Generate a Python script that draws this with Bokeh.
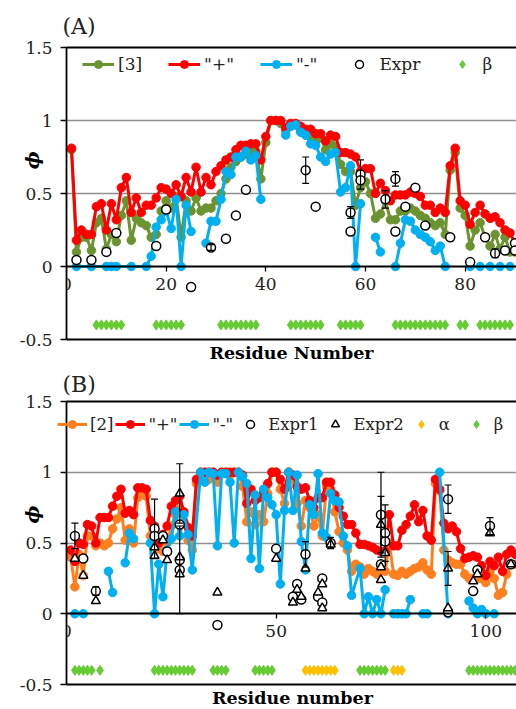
import math
from bokeh.plotting import figure
from bokeh.models import (LinearAxis, FixedTicker, Range1d, Legend, LegendItem,
                          Whisker, ColumnDataSource, TeeHead)
from bokeh.layouts import column
from bokeh.embed import file_html
from bokeh.resources import INLINE

nan = float("nan")

# ---------------- Panel A data ----------------
a_res = [1, 2, 3, 4, 5, 6, 7, 8, 9, 10, 11, 12, 13, 14, 15, 16, 17, 18, 19, 20,
         21, 22, 23, 24, 25, 26, 27, 28, 29, 30, 31, 32, 33, 34, 35, 36, 37, 38, 39, 40,
         41, 42, 43, 44, 45, 46, 47, 48, 49, 50, 51, 52, 53, 54, 55, 56, 57, 58, 59, 60,
         61, 62, 63, 64, 65, 66, 67, 68, 69, 70, 71, 72, 73, 74, 75, 76, 77, 78, 79, 80,
         81, 82, 83, 84, 85, 86, 87, 88, 89, 90]
a_model3 = [0.80, 0.10, 0.20, 0.20, 0.11, 0.30, 0.33, 0.12, 0.22, 0.17,
            0.35, 0.45, 0.18, 0.33, 0.30, 0.28, 0.20, 0.22, 0.38, 0.45,
            0.40, 0.48, 0.20, 0.45, 0.38, 0.47, 0.38, 0.40, 0.40, 0.45,
            0.50, 0.60, 0.68, 0.72, 0.75, 0.77, 0.79, 0.79, 0.60, 0.85,
            1.00, 1.00, 0.98, 0.93, 0.97, 0.97, 0.93, 0.90, 0.90, 0.86,
            0.88, 0.80, 0.84, 0.82, 0.70, 0.65, 0.65, 0.42, 0.54, 0.58,
            0.50, 0.33, 0.36, 0.45, 0.32, 0.32, 0.38, 0.38, 0.40, 0.38,
            0.35, 0.33, 0.30, 0.28, 0.30, 0.22, 0.66, 0.78, 0.40, 0.35,
            0.14, 0.25, 0.30, 0.20, 0.14, 0.22, 0.12, 0.20, 0.10, 0.10]
a_plus = [0.81, 0.18, 0.25, 0.22, 0.22, 0.41, 0.43, 0.25, 0.43, 0.32,
          0.54, 0.61, 0.37, 0.47, 0.37, 0.42, 0.42, 0.47, 0.54, 0.53,
          0.50, 0.56, 0.48, 0.61, 0.51, 0.68, 0.51, 0.61, 0.56, 0.65,
          0.69, 0.73, 0.75, 0.80, 0.83, 0.83, 0.84, 0.84, 0.73, 0.89,
          1.00, 1.00, 1.00, 0.95, 0.98, 0.98, 0.96, 0.94, 0.94, 0.91,
          0.91, 0.86, 0.90, 0.89, 0.78, 0.78, 0.77, 0.75, 0.65, 0.67,
          0.67, 0.50, 0.57, 0.52, 0.45, 0.49, 0.49, 0.49, 0.51, 0.50,
          0.48, 0.42, 0.42, 0.37, 0.40, 0.37, 0.69, 0.81, 0.45, 0.42,
          0.29, 0.37, 0.42, 0.36, 0.33, 0.34, 0.30, 0.25, 0.23, 0.16]
a_minus_x = [2, 5, 8, 9, 10, 13, 16, 17, 18, 19, 20, 21, 22, 23, 24, 25, nan,
             28, 29, 30, 31, 32, 33, 34, 35, 36, 37, 38, 39, nan,
             44, 45, 46, 47, 48, 49, 50, 51, 52, 53, 54, 55, 56, 57, 58, 59, nan,
             62, 63, nan,
             66, 67, 68, 69, 70, 71, 72, 73, 74, 75, 76, nan,
             81, 83, 85, 87, 89]
a_minus_y = [0, 0, 0, 0, 0, 0, 0, 0.07, 0.27, 0.32, 0.38, 0.26, 0.46, 0, 0.42, 0.24, nan,
             0.16, 0.31, 0.31, 0.46, 0.65, 0.63, 0.75, 0.75, 0.79, 0.73, 0.76, 0.46, nan,
             0.90, 0.96, 0.97, 0.92, 0.90, 0.84, 0.83, 0.75, 0.72, 0.77, 0.78, 0.51, 0.54, 0.69, 0, 0.43, nan,
             0.20, 0.10, nan,
             0, 0.16, 0.32, 0.31, 0.25, 0.22, 0.20, 0.17, 0.11, 0.14, 0, nan,
             0, 0, 0, 0, 0]
a_expr_x = [2, 5, 8, 10, 18, 20, 25, 29, 32, 34, 36, 48, 50, 57, 57, 59, 59, 64, 66, 66,
            68, 70, 72, 77, 81, 84, 86, 88, 90, 90]
a_expr_y = [0.045, 0.045, 0.10, 0.23, 0.14, 0.39, -0.14, 0.13, 0.19, 0.35, 0.525, 0.66, 0.41,
            0.37, 0.24, 0.63, 0.59, 0.46, 0.60, 0.24, 0.41, 0.54, 0.28, 0.20, 0.03, 0.20,
            0.09, 0.11, 0.16, 0.11]
a_err_x = [29, 48, 57, 59, 64, 66, 86]
a_err_y = [0.13, 0.66, 0.37, 0.63, 0.46, 0.60, 0.09]
a_err_e = [0.02, 0.09, 0.04, 0.10, 0.06, 0.05, 0.03]
a_beta_x = [6, 7, 8, 9, 10, 11, 18, 19, 20, 21, 22, 23, 31, 32, 33, 34, 35, 36, 37, 38,
            45, 46, 47, 48, 49, 50, 51, 55, 56, 57, 58, 59, 66, 67, 68, 69, 70, 71, 72, 73,
            74, 75, 76, 79, 80, 83, 84, 85, 86, 87, 88, 89]
a_xticks = [0, 20, 40, 60, 80]

# ---------------- Panel B data ----------------
b_res = [1, 2, 3, 4, 5, 6, 7, 8, 9, 10, 11, 12, 13, 14, 15, 16, 17, 18, 19, 20,
         21, 22, 23, 24, 25, 26, 27, 28, 29, 30, 31, 32, 33, 34, 35, 36, 37, 38, 39, 40,
         41, 42, 43, 44, 45, 46, 47, 48, 49, 50, 51, 52, 53, 54, 55, 56, 57, 58, 59, 60,
         61, 62, 63, 64, 65, 66, 67, 68, 69, 70, 71, 72, 73, 74, 75, 76, 77, 78, 79, 80,
         81, 82, 83, 84, 85, 86, 87, 88, 89, 90, 91, 92, 93, 94, 95, 96, 97, 98, 99, 100,
         101, 102, 103, 104, 105, 106, 107]
b_model2 = [0.40, 0.19, 0.42, 0.27, 0.55, 0.55, 0.48, 0.50, 0.48, 0.50,
            0.60, 0.67, 0.75, 0.52, 0.60, 0.50, 0.82, 0.86, 0.83, 0.55,
            0.50, 0.46, 0.44, 0.50, 0.62, 0.70, 0.74, 0.65, 0.52, 0.45,
            0.92, 1.00, 1.00, 0.95, 1.00, 0.93, 1.00, 1.00, 0.98, 1.00,
            1.00, 0.90, 0.65, 0.72, 0.63, 0.70, 0.65, 0.85, 1.00, 1.00,
            0.88, 0.78, 1.00, 0.95, 0.78, 0.62, 0.80, 0.75, 0.62, 0.70,
            0.55, 0.90, 0.88, 0.72, 0.58, 0.50, 0.45, 0.30, 0.35, 0.33,
            0.28, 0.32, 0.30, 0.28, 0.33, 0.30, 0.50, 0.28, 0.27, 0.30,
            0.28, 0.30, 0.32, 0.33, 0.36, 0.31, 0.28, 0.92, 0.87, 0.45,
            0.38, 0.36, 0.35, 0.35, 0.28, 0.25, 0.25, 0.25, 0.25, 0.22,
            0.30, 0.25, 0.13, 0.15, 0.28, 0.35, 0.35]
b_plus = [0.45, 0.37, 0.50, 0.49, 0.63, 0.62, 0.50, 0.68, 0.68, 0.68,
          0.76, 0.83, 0.88, 0.71, 0.73, 0.70, 0.89, 0.89, 0.88, 0.66,
          0.62, 0.50, 0.56, 0.62, 0.76, 0.80, 0.83, 0.72, 0.61, 0.55,
          0.95, 1.00, 1.00, 1.00, 1.00, 0.98, 1.00, 1.00, 1.00, 1.00,
          1.00, 0.98, 0.78, 0.88, 0.80, 0.82, 0.86, 0.92, 1.00, 1.00,
          0.95, 0.88, 1.00, 0.98, 0.90, 0.88, 0.89, 0.80, 0.75, 0.82,
          0.82, 0.93, 0.93, 0.84, 0.75, 0.69, 0.63, 0.63, 0.57, 0.49,
          0.49, 0.48, 0.47, 0.45, 0.44, 0.44, 0.70, 0.48, 0.48, 0.59,
          0.63, 0.69, 0.77, 0.65, 0.73, 0.55, 0.52, 0.95, 0.88, 0.64,
          0.60, 0.62, 0.58, 0.46, 0.39, 0.40, 0.41, 0.40, 0.34, 0.27,
          0.37, 0.34, 0.40, 0.30, 0.42, 0.45, 0.42]
b_minus_x = [2, 4, nan, 10, 11, nan, 14, 15, 16, nan,
             20, 21, 22, 23, 24, 25, 26, 27, 28, 29, 30,
             32, 33, 34, 35, 36, 37, 38, 39, 40, 41,
             42, 43, 44, 45, 46, 47, 48, 49, 50, 51,
             52, 53, 54, 55, 56, 57, 58, 59, 60, 61,
             62, 63, 64, 65, 66, 67, 68,
             70, 71, 72, 73, 74, 75, 76, nan,
             78, 79, 80, 81, 82, nan, 85, 86, nan, 89, 91, nan,
             96, 97, 98, 99, 100, 102]
b_minus_y = [0, 0, nan, 0.30, 0.15, nan, 0.36, 0.57, 0.53, nan,
             0.50, 0.00, 0.35, 0.12, 0.45, 0.53, 0.72, 0.55, 0.70, 0.56, 0.31,
             1.00, 0.93, 1.00, 0.99, 0.48, 0.99, 0.99, 0.93, 0.50, 1.00,
             0.97, 0.92, 0.39, 0.84, 0.32, 0.88, 0.82, 0.77, 0.70, 0.21,
             0.73, 1.00, 0.73, 0.98, 0.51, 0.31, 0.77, 0.70, 0.99, 0.57,
             0.54, 0.85, 0.80, 0.79, 0.55, 0.48, 0.13,
             0.32, 0.00, 0.12, 0.00, 0.10, 0.00, 0.17, nan,
             0, 0, 0, 0, 0.10, nan, 0, 0, nan, 1.00, 0, nan,
             0.09, 0.04, 0, 0.03, 0, 0]
b_e1_x = [2, 4, 7, 21, 21, 23, 24, 27, 27, 27, 36, 50, 54, 55, 56, 57, 60, 61, 61, 63,
          75, 76, 76, 75, 91, 91, 97, 98, 101, 106]
b_e1_y = [0.55, 0.39, 0.16, 0.60, 0.55, 0.55, 0.44, 0.63, 0.38, 0.31, -0.08, 0.46, 0.12,
          0.21, 0.10, 0.42, 0.12, 0.25, 0.08, 0.50, 0.70, 0.57, 0.51, 0.35, 0.81, 0.01,
          0.16, 0.31, 0.62, 0.35]
b_e2_x = [2, 4, 7, 21, 21, 23, 24, 27, 27, 27, 36, 50, 54, 55, 56, 57, 60, 61, 61, 63,
          75, 76, 75, 75, 91, 91, 97, 98, 101, 106]
b_e2_y = [0.39, 0.27, 0.09, 0.47, 0.41, 0.52, 0.38, 0.85, 0.40, 0.28, 0.15, 0.39, 0.08,
          0.17, 0.12, 0.32, 0.15, 0.21, 0.04, 0.49, 0.63, 0.43, 0.33, 0.24, 0.32, 0.04,
          0.23, 0.28, 0.57, 0.35]
b_err_x = [2, 7, 21, 27, 27, 57, 63, 75, 75, 76, 91, 91, 101]
b_err_y = [0.55, 0.16, 0.60, 0.85, 0.31, 0.42, 0.50, 0.70, 0.63, 0.57, 0.81, 0.32, 0.62]
b_err_e = [0.09, 0.03, 0.21, 0.21, 0.31, 0.09, 0.04, 0.30, 0.20, 0.20, 0.10, 0.12, 0.06]
b_alpha_x = [57, 58, 59, 60, 61, 62, 63, 64, 78, 79, 80]
b_beta_x = [2, 3, 4, 5, 6, 8, 21, 22, 23, 24, 25, 26, 27, 28, 29, 30, 35, 36, 37, 38,
            45, 46, 47, 48, 49, 70, 71, 72, 73, 74, 75, 76, 96, 97, 98, 99, 100, 101, 102,
            103, 104, 105, 106, 107]
b_xticks = [0, 50, 100]

ss_level = -0.4
y_ticks = [-0.5, 0, 0.5, 1, 1.5]
y_tick_labels = {-0.5: "-0.5", 0: "0", 0.5: "0.5", 1: "1", 1.5: "1.5"}

GREEN = "#6b9431"
RED = "#ff0000"
BLUE = "#00b0f0"
ORANGE = "#ff7f1f"
BETA = "#66cc33"
ALPHA = "#ffc000"
FONT = "DejaVu Serif"
EM = "\u2003"
EN = "\u2002"


def base_figure(tag, frame_w, frame_h, xmax, left, top, bottom, xticks, xlabel, phi_pad,
                title_standoff):
    p = figure(frame_width=frame_w, frame_height=frame_h,
               x_range=Range1d(0, xmax), y_range=Range1d(-0.5, 1.5),
               output_backend="svg", toolbar_location=None,
               min_border_left=left, min_border_right=0, min_border_top=top,
               min_border_bottom=bottom, outline_line_color=None, title=tag)
    p.title.text_font = FONT
    p.title.text_font_style = "normal"
    p.title.text_font_size = "22px"
    p.title.text_color = "#222222"
    p.title.align = "left"
    p.title.offset = -4
    p.title.standoff = title_standoff

    p.xgrid.visible = False
    p.ygrid.ticker = FixedTicker(ticks=[0.5, 1.0])
    p.ygrid.grid_line_color = "#8f8f8f"
    p.ygrid.grid_line_width = 1.3

    # x axis crossing at y = 0
    ax = p.xaxis[0]
    ax.fixed_location = 0
    ax.ticker = FixedTicker(ticks=xticks)
    ax.major_tick_out = 5
    ax.major_tick_in = 0
    ax.minor_tick_line_color = None
    ax.axis_line_color = "black"
    ax.axis_line_width = 1.8
    ax.major_tick_line_width = 1.3
    ax.major_label_text_font = FONT
    ax.major_label_text_font_size = "17px"
    ax.major_label_text_color = "#222222"
    ax.major_label_standoff = 6

    # bottom frame line + axis title
    bx = LinearAxis(ticker=FixedTicker(ticks=[]), axis_label=xlabel,
                    axis_label_text_font=FONT, axis_label_text_font_style="bold",
                    axis_label_text_font_size="17.5px", axis_label_standoff=3,
                    axis_label_text_color="black",
                    axis_line_width=2, axis_line_color="black",
                    major_tick_out=0, major_tick_in=0, major_label_standoff=0)
    p.add_layout(bx, "below")
    tx = LinearAxis(ticker=FixedTicker(ticks=[]), axis_line_width=2, axis_line_color="black",
                    major_tick_out=0, major_tick_in=0, major_label_standoff=0)
    p.add_layout(tx, "above")

    ay = p.yaxis[0]
    ay.ticker = FixedTicker(ticks=y_ticks)
    ay.major_label_overrides = y_tick_labels
    ay.major_tick_out = 6
    ay.major_tick_in = 0
    ay.minor_tick_line_color = None
    ay.axis_line_width = 1.8
    ay.axis_line_color = "black"
    ay.major_tick_line_width = 1.3
    ay.major_label_text_font = FONT
    ay.major_label_text_font_size = "17px"
    ay.major_label_text_color = "#222222"
    ay.major_label_standoff = 8
    ay.axis_label = phi_pad + "ϕ"
    ay.axis_label_text_font = FONT
    ay.axis_label_text_font_style = "bold italic"
    ay.axis_label_text_font_size = "19px"
    ay.axis_label_text_color = "black"
    ay.axis_label_standoff = -26
    return p


def series(p, x, y, color):
    l = p.line(x, y, line_color=color, line_width=3, line_join="round")
    s = p.scatter(x, y, marker="circle", size=8.5, fill_color=color, line_color=color)
    return [l, s]


def errbars(p, x, y, e):
    src = ColumnDataSource(dict(x=x, lo=[a - b for a, b in zip(y, e)],
                                hi=[a + b for a, b in zip(y, e)]))
    w = Whisker(source=src, base="x", lower="lo", upper="hi", line_color="black",
                line_width=1.2, level="glyph",
                upper_head=TeeHead(size=7, line_color="black", line_width=1.2),
                lower_head=TeeHead(size=7, line_color="black", line_width=1.2))
    p.add_layout(w)


# ---------------- Panel A ----------------
A_FH = 292
pa = base_figure("(A)", 450, A_FH, 90.3, 66, 47, 26, a_xticks, "Residue Number",
                 EM * 3 + EN, 18)
ra_g = series(pa, a_res, a_model3, GREEN)
ra_r = series(pa, a_res, a_plus, RED)
ra_b = series(pa, a_minus_x, a_minus_y, BLUE)
errbars(pa, a_err_x, a_err_y, a_err_e)
ra_e = pa.scatter(a_expr_x, a_expr_y, marker="circle", size=9, fill_color="white",
                  line_color="black", line_width=1.5)
ra_beta = pa.scatter(a_beta_x, [ss_level] * len(a_beta_x), marker="diamond", size=10,
                     fill_color=BETA, line_color=BETA)
leg_a = Legend(items=[LegendItem(label="[3]", renderers=ra_g),
                      LegendItem(label='"+"', renderers=ra_r),
                      LegendItem(label='"-"', renderers=ra_b),
                      LegendItem(label="Expr", renderers=[ra_e]),
                      LegendItem(label="β", renderers=[ra_beta])],
               location=(16, A_FH - 27), orientation="horizontal", glyph_width=32,
               glyph_height=20, label_height=20, label_standoff=4, spacing=26, padding=0,
               margin=0, border_line_color=None, background_fill_alpha=0,
               label_text_font=FONT, label_text_font_size="17px", label_text_color="#222222")
pa.add_layout(leg_a)

# ---------------- Panel B ----------------
B_FH = 283
pb = base_figure("(B)", 452, B_FH, 107.8, 64, 35, 25, b_xticks, "Residue number",
                 EM * 3, 9)
rb_o = series(pb, b_res, b_model2, ORANGE)
rb_r = series(pb, b_res, b_plus, RED)
rb_b = series(pb, b_minus_x, b_minus_y, BLUE)
errbars(pb, b_err_x, b_err_y, b_err_e)
rb_e1 = pb.scatter(b_e1_x, b_e1_y, marker="circle", size=9, fill_color="white",
                   line_color="black", line_width=1.5)
rb_e2 = pb.scatter(b_e2_x, b_e2_y, marker="triangle", size=9, fill_color="white",
                   line_color="black", line_width=1.5)
rb_al = pb.scatter(b_alpha_x, [ss_level] * len(b_alpha_x), marker="diamond", size=10,
                   fill_color=ALPHA, line_color=ALPHA)
rb_be = pb.scatter(b_beta_x, [ss_level] * len(b_beta_x), marker="diamond", size=10,
                   fill_color=BETA, line_color=BETA)
leg_b = Legend(items=[LegendItem(label="[2]", renderers=rb_o),
                      LegendItem(label='"+"', renderers=rb_r),
                      LegendItem(label='"-"', renderers=rb_b),
                      LegendItem(label="Expr1", renderers=[rb_e1]),
                      LegendItem(label="Expr2", renderers=[rb_e2]),
                      LegendItem(label="α", renderers=[rb_al]),
                      LegendItem(label="β", renderers=[rb_be])],
               location=(3, B_FH - 33), orientation="horizontal", glyph_width=30,
               glyph_height=20, label_height=20, label_standoff=3, spacing=2, padding=0,
               margin=0, border_line_color=None, background_fill_alpha=0,
               label_text_font=FONT, label_text_font_size="16.5px", label_text_color="#222222")
pb.add_layout(leg_b)

layout = column(pa, pb, spacing=0)
open("out.html", "w").write(file_html(layout, INLINE))
